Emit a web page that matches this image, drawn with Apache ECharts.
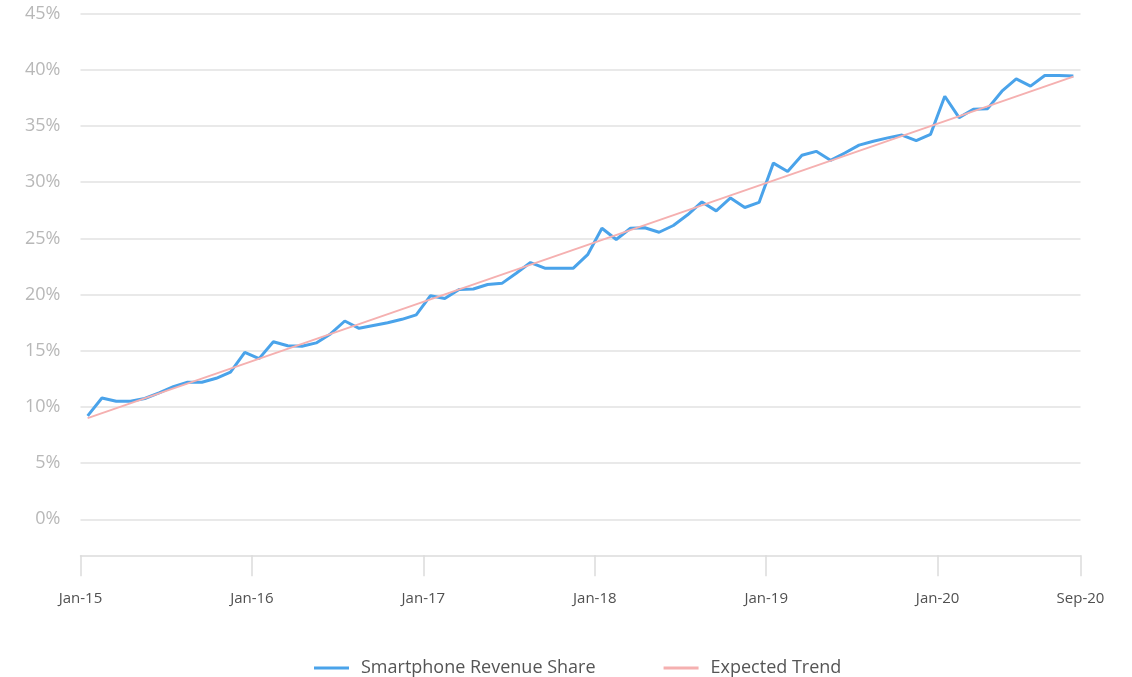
<!DOCTYPE html>
<html>
<head>
<meta charset="utf-8">
<script src="https://cdn.jsdelivr.net/npm/echarts@6/dist/echarts.min.js"></script>
<style>
  html, body { margin: 0; padding: 0; background: #ffffff; }
  #chart { width: 1132px; height: 677px; }
</style>
</head>
<body>
<div id="chart"></div>
<script>
// Monthly categories, Jan-15 .. Oct-20 (70 months)
const months = [
  'Jan-15','Feb-15','Mar-15','Apr-15','May-15','Jun-15','Jul-15','Aug-15','Sep-15','Oct-15','Nov-15','Dec-15',
  'Jan-16','Feb-16','Mar-16','Apr-16','May-16','Jun-16','Jul-16','Aug-16','Sep-16','Oct-16','Nov-16','Dec-16',
  'Jan-17','Feb-17','Mar-17','Apr-17','May-17','Jun-17','Jul-17','Aug-17','Sep-17','Oct-17','Nov-17','Dec-17',
  'Jan-18','Feb-18','Mar-18','Apr-18','May-18','Jun-18','Jul-18','Aug-18','Sep-18','Oct-18','Nov-18','Dec-18',
  'Jan-19','Feb-19','Mar-19','Apr-19','May-19','Jun-19','Jul-19','Aug-19','Sep-19','Oct-19','Nov-19','Dec-19',
  'Jan-20','Feb-20','Mar-20','Apr-20','May-20','Jun-20','Jul-20','Aug-20','Sep-20','Oct-20'
];

// Smartphone revenue share (%)
const shareValues = [
  9.2, 10.8, 10.5, 10.5, 10.75, 11.25, 11.8, 12.2, 12.2, 12.55, 13.1, 14.85,
  14.3, 15.8, 15.45, 15.4, 15.7, 16.5, 17.65, 17.0, 17.25, 17.5, 17.8, 18.2,
  19.9, 19.65, 20.45, 20.5, 20.9, 21.0, 21.9, 22.85, 22.35, 22.35, 22.35, 23.55,
  25.9, 24.9, 25.9, 25.95, 25.55, 26.15, 27.1, 28.25, 27.45, 28.6, 27.75, 28.2,
  31.7, 30.95, 32.4, 32.75, 31.95, 32.6, 33.3, 33.65, 33.95, 34.2, 33.7, 34.25,
  37.65, 35.75, 36.5, 36.55, 38.1, 39.2, 38.55, 39.5, 39.5, 39.45
];

// Expected trend: straight line between its two end points
const trendMonths = ['Jan-15', 'Oct-20'];
const trendValues = [9.0, 39.4];

// X axis tick marks (month boundaries) and their labels
const tickPositions = [0, 12, 24, 36, 48, 60, 70];
const tickLabels = ['Jan-15', 'Jan-16', 'Jan-17', 'Jan-18', 'Jan-19', 'Jan-20', 'Sep-20'];

const seriesNames = ['Smartphone Revenue Share', 'Expected Trend'];
const seriesColors = ['#4aa3ea', '#f5b0b0'];

// Each month sits in the middle of its band on the value axis
const shareData = shareValues.map((v, i) => [i + 0.5, v]);
const trendData = trendMonths.map((m, k) => [months.indexOf(m) + 0.5, trendValues[k]]);

const FONT = '"Open Sans", "Noto Sans", sans-serif';

const chart = echarts.init(document.getElementById('chart'), null, { renderer: 'canvas' });
chart.setOption({
  backgroundColor: '#ffffff',
  animation: false,
  grid: { left: 80.5, right: 51.5, top: 13.7, bottom: 157.7, containLabel: false },
  legend: {
    left: 309,
    top: 654,
    itemWidth: 35,
    itemHeight: 3,
    itemGap: 68,
    icon: 'rect',
    textStyle: { fontFamily: FONT, fontSize: 18, color: '#555555', padding: [0, 0, 0, 7] },
    data: seriesNames
  },
  xAxis: {
    type: 'value',
    min: 0,
    max: 70,
    offset: 36,
    splitLine: { show: false },
    axisLine: { show: true, onZero: false, lineStyle: { color: '#dcdcdc', width: 1.5 } },
    axisTick: {
      show: true, length: 21, inside: false,
      customValues: tickPositions,
      lineStyle: { color: '#dcdcdc', width: 1.5 }
    },
    axisLabel: {
      customValues: tickPositions,
      margin: 36,
      fontFamily: FONT,
      fontSize: 15,
      color: '#505050',
      showMinLabel: true,
      showMaxLabel: true,
      formatter: function (v) {
        const k = tickPositions.indexOf(v);
        return k >= 0 ? tickLabels[k] : '';
      }
    }
  },
  yAxis: {
    type: 'value',
    min: 0,
    max: 45,
    interval: 5,
    axisLine: { show: false },
    axisTick: { show: false },
    splitLine: { show: true, lineStyle: { color: '#e2e2e2', width: 1.5 } },
    axisLabel: {
      margin: 20,
      fontFamily: FONT,
      fontSize: 18,
      color: '#b8b8b8',
      formatter: '{value}%'
    }
  },
  series: [
    {
      name: seriesNames[0],
      type: 'line',
      data: shareData,
      symbol: 'none',
      lineStyle: { color: seriesColors[0], width: 3 },
      itemStyle: { color: seriesColors[0] },
      z: 2
    },
    {
      name: seriesNames[1],
      type: 'line',
      data: trendData,
      symbol: 'none',
      lineStyle: { color: seriesColors[1], width: 2 },
      itemStyle: { color: seriesColors[1] },
      z: 3
    }
  ]
});
</script>
</body>
</html>
